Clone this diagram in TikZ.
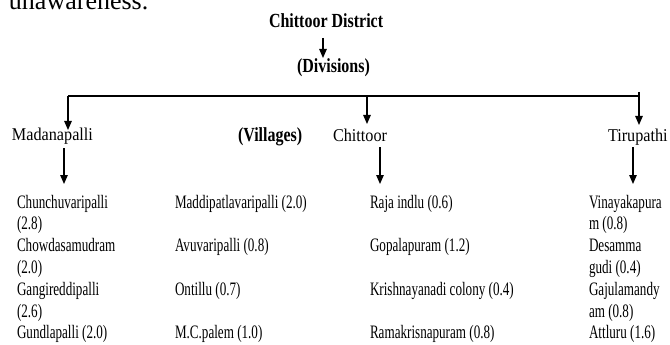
\documentclass[tikz,border=0pt]{standalone}
\usepackage{fontspec}
\setmainfont{Liberation Serif}
\newfontfamily\listfont[FakeStretch=0.69]{Liberation Serif}
\newfontfamily\divfont[FakeStretch=0.9]{Liberation Serif}
\newfontfamily\headfont[FakeStretch=0.8]{Liberation Serif}
\usetikzlibrary{arrows.meta}
\begin{document}
\begin{tikzpicture}[x=1pt,y=-1pt,
  txt/.style={anchor=base west,inner sep=0pt,outer sep=0pt},
  item/.style={txt,font=\listfont\fontsize{19}{21.8}\selectfont},
  division/.style={txt,font=\divfont\fontsize{18}{20}\selectfont},
  heading/.style={txt,font=\headfont\bfseries\fontsize{20}{22}\selectfont},
  conn/.style={line width=1.2pt},
  arr/.style={conn,-{Triangle[length=9pt,width=7.5pt]}}]
\useasboundingbox (0,0) rectangle (670,345);
\clip (0,0) rectangle (670,345);
% cut-off body text
\node[txt,font=\fontsize{26}{28}\selectfont] (body) at (9,10) {unawareness.};
% top
\node[heading] (district) at (269,28) {Chittoor District};
\node[heading] (divisions) at (297,73) {(Divisions)};
\coordinate (dA) at (323,38);
\coordinate (dB) at (323,58);
\draw[arr] (dA) -- (dB);
% bar
\coordinate (barL) at (68,96);
\coordinate (barC) at (367,96);
\coordinate (barR) at (639,96);
\coordinate (barRtop) at (639,92);
\draw[conn] (barL) -- (barR);
\draw[conn] (barRtop) -- (barR);
% divisions
\node[division] (madan) at (12,140) {Madanapalli};
\node[heading,font=\headfont\bfseries\fontsize{20}{22}\selectfont] (villages) at (238,141) {(Villages)};
\node[division] (chit) at (333,141) {Chittoor};
\node[division] (tiru) at (608,141) {Tirupathi};
\coordinate (tipM) at (68,130);
\coordinate (tipC) at (367,124);
\coordinate (tipT) at (639,125);
\draw[arr] (barL) -- (tipM);
\draw[arr] (barC) -- (tipC);
\draw[arr] (barR) -- (tipT);
% lower arrows
\coordinate (mA) at (64,148); \coordinate (mB) at (64,184);
\coordinate (cA) at (380,147); \coordinate (cB) at (380,184);
\coordinate (tA) at (633,147); \coordinate (tB) at (633,184);
\draw[arr] (mA) -- (mB);
\draw[arr] (cA) -- (cB);
\draw[arr] (tA) -- (tB);
% column 1
\node[item] (m1) at (17,208) {Chunchuvaripalli};
\node[item] (m1b) at (17,229.8) {(2.8)};
\node[item] (m2) at (17,251.6) {Chowdasamudram};
\node[item] (m2b) at (17,273.4) {(2.0)};
\node[item] (m3) at (17,295.2) {Gangireddipalli};
\node[item] (m3b) at (17,317) {(2.6)};
\node[item] (m4) at (17,338.8) {Gundlapalli (2.0)};
% column 2
\node[item] (v1) at (175,208) {Maddipatlavaripalli (2.0)};
\node[item] (v2) at (175,251.6) {Avuvaripalli (0.8)};
\node[item] (v3) at (175,295.2) {Ontillu (0.7)};
\node[item] (v4) at (175,338.8) {M.C.palem (1.0)};
% column 3
\node[item] (c1) at (370,208) {Raja indlu (0.6)};
\node[item] (c2) at (370,251.6) {Gopalapuram (1.2)};
\node[item] (c3) at (370,295.2) {Krishnayanadi colony (0.4)};
\node[item] (c4) at (370,338.8) {Ramakrisnapuram (0.8)};
% column 4
\node[item] (t1) at (589,208) {Vinayakapura};
\node[item] (t1b) at (589,229.8) {m (0.8)};
\node[item] (t2) at (589,251.6) {Desamma};
\node[item] (t2b) at (589,273.4) {gudi (0.4)};
\node[item] (t3) at (589,295.2) {Gajulamandy};
\node[item] (t3b) at (589,317) {am (0.8)};
\node[item] (t4) at (589,338.8) {Attluru (1.6)};
\end{tikzpicture}
\end{document}
